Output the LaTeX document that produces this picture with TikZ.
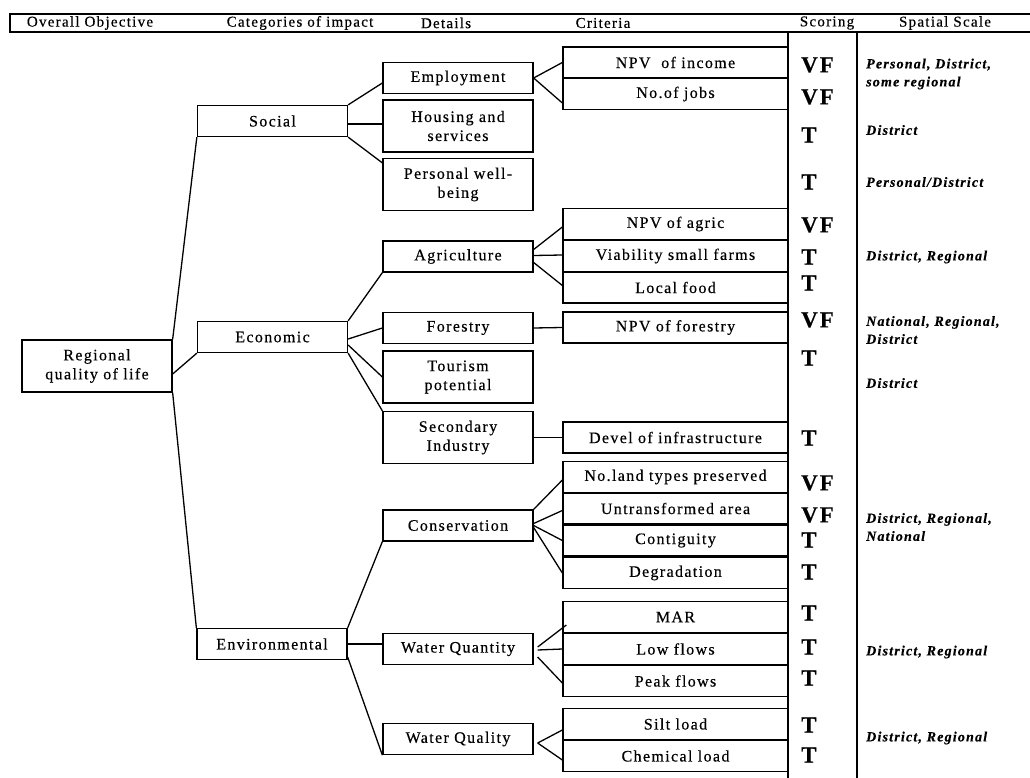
\documentclass[tikz,border=0pt]{standalone}
\usepackage{fontspec}
\setmainfont{Liberation Serif}[LetterSpace=8.5,FakeBold=0.4]
\tikzset{ln/.style={line width=1.3pt}}
\tikzset{box/.style={draw,ln,minimum width=150,minimum height=31,inner sep=0pt,align=center,font=\fontsize{16}{19}\selectfont}}
\tikzset{tall/.style={box,minimum height=52}}
\tikzset{crit/.style={box,minimum width=225}}
\tikzset{hd/.style={font=\fontsize{15}{15}\selectfont}}
\tikzset{sc/.style={anchor=west,inner sep=0pt,font=\fontsize{23}{23}\selectfont\bfseries}}
\tikzset{sp/.style={anchor=west,inner sep=0pt,align=left,font=\fontsize{14}{18}\selectfont\bfseries\itshape}}

\begin{document}
\begin{tikzpicture}[x=1pt,y=-1pt]
        \useasboundingbox (0,0) rectangle (1030,778);
        % header row
        \draw[ln] (1040,14) -- (10,14) -- (10,32) -- (1040,32);
        \node[hd] (h1) at (90,23) {Overall Objective};
        \node[hd] (h2) at (300,23) {Categories of impact};
        \node[hd] (h3) at (446,23) {Details};
        \node[hd] (h4) at (603,23) {Criteria};
        \node[hd] (h5) at (827,23) {Scoring};
        \node[hd] (h6) at (945,23) {Spatial Scale};
        % scoring column
        \draw[ln] (788,32) -- (788,790);
        \draw[ln] (857,32) -- (857,790);

        \node[tall] (reg) at (97,366) {Regional\\quality of life};

        \node[box] (soc) at (272.5,121) {Social};
        \node[box] (eco) at (272.5,337) {Economic};
        \node[box] (env) at (272,644) {Environmental};

        \node[box] (emp) at (458,78) {Employment};
        \node[tall] (hou) at (458,126) {Housing and\\services};
        \node[tall] (per) at (458,184.5) {Personal well-\\being};
        \node[box] (agr) at (458,256.5) {Agriculture};
        \node[box] (for) at (458,328) {Forestry};
        \node[tall] (tou) at (458,377) {Tourism\\potential};
        \node[tall] (sec) at (458,437.5) {Secondary\\Industry};
        \node[box] (con) at (458,525.5) {Conservation};
        \node[box] (wqn) at (458,649) {Water Quantity};
        \node[box] (wql) at (458,739) {Water Quality};

        \node[crit] (inc) at (675.5,62.5) {NPV\ \ of income};
        \node[crit] (job) at (675.5,94) {No.of jobs};
        \node[crit] (agc) at (675.5,224) {NPV of agric};
        \node[crit] (via) at (675.5,256) {Viability small farms};
        \node[crit] (foo) at (675.5,287.5) {Local food};
        \node[crit] (fst) at (675.5,327.5) {NPV of forestry};
        \node[crit] (dev) at (675.5,437.5) {Devel of infrastructure};
        \node[crit] (lan) at (675.5,477) {No.land types preserved};
        \node[crit] (unt) at (675.5,508.5) {Untransformed area};
        \node[crit] (cnt) at (675.5,540.5) {Contiguity};
        \node[crit] (deg) at (675.5,573) {Degradation};
        \node[crit] (mar) at (675.5,617) {MAR};
        \node[crit] (low) at (675.5,649) {Low flows};
        \node[crit] (pea) at (675.5,681) {Peak flows};
        \node[crit] (sil) at (675.5,724) {Silt load};
        \node[crit] (che) at (675.5,756) {Chemical load};

        % objective to categories
        \draw[ln] (reg.north east) -- (soc.south west);
        \draw[ln] ([yshift=-8pt]reg.east) -- (eco.south west);
        \draw[ln] (reg.south east) -- (env.north west);
        % categories to details
        \draw[ln] (soc.north east) -- ([yshift=-5pt]emp.west);
        \draw[ln] ([yshift=-3pt]soc.east) -- ([yshift=-3pt]soc.east -| hou.west);
        \draw[ln] (soc.south east) -- ([yshift=-5pt]per.north west);
        \draw[ln] (eco.north east) -- (agr.south west);
        \draw[ln] ([yshift=-2pt]eco.east) -- (for.west);
        \draw[ln] ([yshift=-8pt]eco.east) -- (tou.west);
        \draw[ln] (eco.south east) -- (sec.north west);
        \draw[ln] (env.north east) -- (con.south west);
        \draw[ln] (env.east) -- (env.east -| wqn.west);
        \draw[ln] ([yshift=-13pt]env.east) -- (wql.south west);
        % details to criteria
        \draw[ln] (emp.east) -- (inc.west);
        \draw[ln] (emp.east) -- ([yshift=-9pt]job.west);
        \draw[ln] ([yshift=7pt]agr.east) -- ([yshift=-3pt]agc.west);
        \draw[ln] ([yshift=1pt]agr.east) -- ([yshift=1pt]via.west);
        \draw[ln] ([yshift=-6pt]agr.east) -- ([yshift=2pt]foo.west);
        \draw[ln] (for.east) -- (fst.west);
        \draw[ln] (sec.east) -- (dev.west);
        \draw[ln] (con.north east) -- ([yshift=-3pt]lan.west);
        \draw[ln] ([yshift=2pt]con.east) -- ([yshift=-2pt]unt.west);
        \draw[ln] (con.east) -- (cnt.west);
        \draw[ln] ([yshift=-2pt]con.east) -- (deg.west);
        \draw[ln] ([xshift=4pt,yshift=2pt]wqn.east) -- ([xshift=4pt,yshift=-8pt]mar.west);
        \draw[ln] ([xshift=4pt,yshift=-1pt]wqn.east) -- (low.west);
        \draw[ln] ([xshift=4pt,yshift=-8pt]wqn.east) -- ([yshift=-2pt]pea.west);
        \draw[ln] ([xshift=4pt,yshift=-4pt]wql.east) -- ([yshift=-6pt]sil.west);
        \draw[ln] ([xshift=4pt,yshift=-4pt]wql.east) -- ([yshift=-4pt]che.west);

        % scoring
        \node[sc] (s1) at (801,65) {VF};
        \node[sc] (s2) at (801,97) {VF};
        \node[sc] (s3) at (801,135) {T};
        \node[sc] (s4) at (801,182) {T};
        \node[sc] (s5) at (801,225) {VF};
        \node[sc] (s6) at (801,257) {T};
        \node[sc] (s7) at (801,283) {T};
        \node[sc] (s8) at (801,320) {VF};
        \node[sc] (s9) at (801,358) {T};
        \node[sc] (s10) at (801,438) {T};
        \node[sc] (s11) at (801,483) {VF};
        \node[sc] (s12) at (801,515) {VF};
        \node[sc] (s13) at (801,540) {T};
        \node[sc] (s14) at (801,572) {T};
        \node[sc] (s15) at (801,613) {T};
        \node[sc] (s16) at (801,647) {T};
        \node[sc] (s17) at (801,678) {T};
        \node[sc] (s18) at (801,725) {T};
        \node[sc] (s19) at (801,755) {T};

        % spatial scale
        \node[sp] (p1) at (866,74) {Personal, District,\\some regional};
        \node[sp] (p2) at (866,130) {District};
        \node[sp] (p3) at (866,182) {Personal/District};
        \node[sp] (p4) at (866,257) {District, Regional};
        \node[sp] (p5) at (866,330) {National, Regional,\\District};
        \node[sp] (p6) at (866,383) {District};
        \node[sp] (p7) at (866,527) {District, Regional,\\National};
        \node[sp] (p8) at (866,652) {District, Regional};
        \node[sp] (p9) at (866,738) {District, Regional};
      \end{tikzpicture}
\end{document}
